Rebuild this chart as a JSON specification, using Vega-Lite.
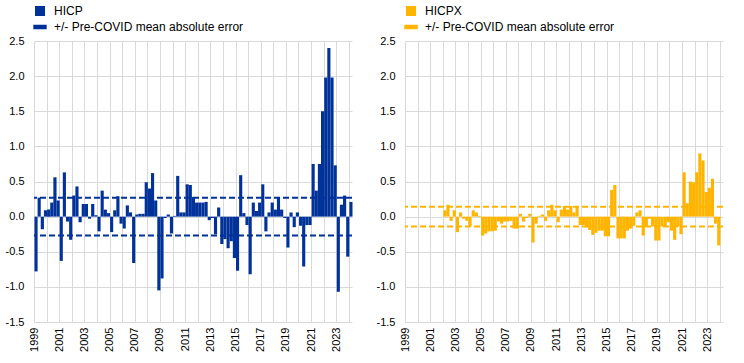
{
  "$schema": "https://vega.github.io/schema/vega-lite/v6.json",
  "background": "white",
  "padding": {"left": 5, "top": 5, "right": 0, "bottom": 0},
  "config": {
    "font": "Liberation Sans",
    "view": {"stroke": null},
    "axis": {"gridColor": "#d9d9d9", "gridWidth": 1, "domain": false, "ticks": false, "labelFontSize": 11, "labelColor": "#000000", "title": null},
    "legend": {"labelFontSize": 12, "labelColor": "#000000", "labelLimit": 0},
    "bar": {"binSpacing": 0, "timeUnitBandSize": 1}
  },
  "datasets": {
    "hicp": [
      {"d": "1999-01-01", "v": -0.78}, {"d": "1999-04-01", "v": 0.27}, {"d": "1999-07-01", "v": -0.18}, {"d": "1999-10-01", "v": 0.09},
      {"d": "2000-01-01", "v": 0.10}, {"d": "2000-04-01", "v": 0.20}, {"d": "2000-07-01", "v": 0.56}, {"d": "2000-10-01", "v": 0.23},
      {"d": "2001-01-01", "v": -0.63}, {"d": "2001-04-01", "v": 0.63}, {"d": "2001-07-01", "v": -0.07}, {"d": "2001-10-01", "v": -0.33},
      {"d": "2002-01-01", "v": 0.30}, {"d": "2002-04-01", "v": 0.43}, {"d": "2002-07-01", "v": -0.08}, {"d": "2002-10-01", "v": 0.18},
      {"d": "2003-01-01", "v": 0.18}, {"d": "2003-04-01", "v": -0.03}, {"d": "2003-07-01", "v": 0.18}, {"d": "2003-10-01", "v": 0.02},
      {"d": "2004-01-01", "v": -0.21}, {"d": "2004-04-01", "v": 0.37}, {"d": "2004-07-01", "v": 0.10}, {"d": "2004-10-01", "v": 0.05},
      {"d": "2005-01-01", "v": -0.22}, {"d": "2005-04-01", "v": 0.09}, {"d": "2005-07-01", "v": 0.29}, {"d": "2005-10-01", "v": -0.10},
      {"d": "2006-01-01", "v": -0.17}, {"d": "2006-04-01", "v": 0.16}, {"d": "2006-07-01", "v": 0.06}, {"d": "2006-10-01", "v": -0.66},
      {"d": "2007-01-01", "v": 0.03}, {"d": "2007-04-01", "v": 0.04}, {"d": "2007-07-01", "v": 0.04}, {"d": "2007-10-01", "v": 0.49},
      {"d": "2008-01-01", "v": 0.40}, {"d": "2008-04-01", "v": 0.62}, {"d": "2008-07-01", "v": 0.23}, {"d": "2008-10-01", "v": -1.05},
      {"d": "2009-01-01", "v": -0.88}, {"d": "2009-04-01", "v": -0.02}, {"d": "2009-07-01", "v": 0.03}, {"d": "2009-10-01", "v": -0.24},
      {"d": "2010-01-01", "v": 0.01}, {"d": "2010-04-01", "v": 0.58}, {"d": "2010-07-01", "v": 0.06}, {"d": "2010-10-01", "v": 0.06},
      {"d": "2011-01-01", "v": 0.46}, {"d": "2011-04-01", "v": 0.45}, {"d": "2011-07-01", "v": 0.28}, {"d": "2011-10-01", "v": 0.20},
      {"d": "2012-01-01", "v": 0.20}, {"d": "2012-04-01", "v": 0.20}, {"d": "2012-07-01", "v": 0.21}, {"d": "2012-10-01", "v": -0.05},
      {"d": "2013-01-01", "v": -0.02}, {"d": "2013-04-01", "v": -0.25}, {"d": "2013-07-01", "v": 0.13}, {"d": "2013-10-01", "v": -0.39},
      {"d": "2014-01-01", "v": -0.32}, {"d": "2014-04-01", "v": -0.45}, {"d": "2014-07-01", "v": -0.35}, {"d": "2014-10-01", "v": -0.59},
      {"d": "2015-01-01", "v": -0.77}, {"d": "2015-04-01", "v": 0.59}, {"d": "2015-07-01", "v": 0.05}, {"d": "2015-10-01", "v": -0.12},
      {"d": "2016-01-01", "v": -0.82}, {"d": "2016-04-01", "v": 0.20}, {"d": "2016-07-01", "v": 0.08}, {"d": "2016-10-01", "v": 0.20},
      {"d": "2017-01-01", "v": 0.46}, {"d": "2017-04-01", "v": -0.21}, {"d": "2017-07-01", "v": 0.06}, {"d": "2017-10-01", "v": 0.20},
      {"d": "2018-01-01", "v": 0.10}, {"d": "2018-04-01", "v": 0.28}, {"d": "2018-07-01", "v": 0.10}, {"d": "2018-10-01", "v": -0.02},
      {"d": "2019-01-01", "v": -0.44}, {"d": "2019-04-01", "v": 0.06}, {"d": "2019-07-01", "v": -0.15}, {"d": "2019-10-01", "v": 0.06},
      {"d": "2020-01-01", "v": -0.13}, {"d": "2020-04-01", "v": -0.71}, {"d": "2020-07-01", "v": -0.12}, {"d": "2020-10-01", "v": -0.12},
      {"d": "2021-01-01", "v": 0.75}, {"d": "2021-04-01", "v": 0.37}, {"d": "2021-07-01", "v": 0.75}, {"d": "2021-10-01", "v": 1.50},
      {"d": "2022-01-01", "v": 1.98}, {"d": "2022-04-01", "v": 2.40}, {"d": "2022-07-01", "v": 1.98}, {"d": "2022-10-01", "v": 0.73},
      {"d": "2023-01-01", "v": -1.07}, {"d": "2023-04-01", "v": 0.17}, {"d": "2023-07-01", "v": 0.30}, {"d": "2023-10-01", "v": -0.57},
      {"d": "2024-01-01", "v": 0.21}
    ],
    "hicpx": [
      {"d": "2002-01-01", "v": 0.09}, {"d": "2002-04-01", "v": 0.17}, {"d": "2002-07-01", "v": -0.06}, {"d": "2002-10-01", "v": 0.09},
      {"d": "2003-01-01", "v": -0.22}, {"d": "2003-04-01", "v": 0.06}, {"d": "2003-07-01", "v": -0.03}, {"d": "2003-10-01", "v": -0.06},
      {"d": "2004-01-01", "v": -0.14}, {"d": "2004-04-01", "v": 0.09}, {"d": "2004-07-01", "v": 0.06}, {"d": "2004-10-01", "v": 0.01},
      {"d": "2005-01-01", "v": -0.27}, {"d": "2005-04-01", "v": -0.24}, {"d": "2005-07-01", "v": -0.21}, {"d": "2005-10-01", "v": -0.21},
      {"d": "2006-01-01", "v": -0.20}, {"d": "2006-04-01", "v": -0.07}, {"d": "2006-07-01", "v": -0.10}, {"d": "2006-10-01", "v": -0.07},
      {"d": "2007-01-01", "v": -0.07}, {"d": "2007-04-01", "v": -0.06}, {"d": "2007-07-01", "v": -0.17}, {"d": "2007-10-01", "v": -0.17},
      {"d": "2008-01-01", "v": 0.04}, {"d": "2008-04-01", "v": -0.07}, {"d": "2008-07-01", "v": -0.02}, {"d": "2008-10-01", "v": 0.04},
      {"d": "2009-01-01", "v": -0.37}, {"d": "2009-04-01", "v": -0.10}, {"d": "2009-07-01", "v": 0.01}, {"d": "2009-10-01", "v": 0.03},
      {"d": "2010-01-01", "v": -0.06}, {"d": "2010-04-01", "v": 0.09}, {"d": "2010-07-01", "v": 0.17}, {"d": "2010-10-01", "v": 0.09},
      {"d": "2011-01-01", "v": -0.08}, {"d": "2011-04-01", "v": 0.10}, {"d": "2011-07-01", "v": 0.15}, {"d": "2011-10-01", "v": 0.10},
      {"d": "2012-01-01", "v": 0.15}, {"d": "2012-04-01", "v": 0.06}, {"d": "2012-07-01", "v": 0.15}, {"d": "2012-10-01", "v": -0.12},
      {"d": "2013-01-01", "v": -0.12}, {"d": "2013-04-01", "v": -0.15}, {"d": "2013-07-01", "v": -0.19}, {"d": "2013-10-01", "v": -0.26},
      {"d": "2014-01-01", "v": -0.23}, {"d": "2014-04-01", "v": -0.20}, {"d": "2014-07-01", "v": -0.20}, {"d": "2014-10-01", "v": -0.28},
      {"d": "2015-01-01", "v": -0.28}, {"d": "2015-04-01", "v": 0.38}, {"d": "2015-07-01", "v": 0.45}, {"d": "2015-10-01", "v": -0.31},
      {"d": "2016-01-01", "v": -0.31}, {"d": "2016-04-01", "v": -0.31}, {"d": "2016-07-01", "v": -0.20}, {"d": "2016-10-01", "v": -0.17},
      {"d": "2017-01-01", "v": -0.13}, {"d": "2017-04-01", "v": 0.06}, {"d": "2017-07-01", "v": 0.09}, {"d": "2017-10-01", "v": -0.27},
      {"d": "2018-01-01", "v": -0.14}, {"d": "2018-04-01", "v": -0.03}, {"d": "2018-07-01", "v": -0.14}, {"d": "2018-10-01", "v": -0.34},
      {"d": "2019-01-01", "v": -0.34}, {"d": "2019-04-01", "v": -0.14}, {"d": "2019-07-01", "v": -0.14}, {"d": "2019-10-01", "v": -0.08},
      {"d": "2020-01-01", "v": -0.20}, {"d": "2020-04-01", "v": -0.33}, {"d": "2020-07-01", "v": -0.14}, {"d": "2020-10-01", "v": -0.25},
      {"d": "2021-01-01", "v": 0.63}, {"d": "2021-04-01", "v": 0.19}, {"d": "2021-07-01", "v": 0.50}, {"d": "2021-10-01", "v": 0.49},
      {"d": "2022-01-01", "v": 0.63}, {"d": "2022-04-01", "v": 0.90}, {"d": "2022-07-01", "v": 0.80}, {"d": "2022-10-01", "v": 0.35},
      {"d": "2023-01-01", "v": 0.41}, {"d": "2023-04-01", "v": 0.54}, {"d": "2023-07-01", "v": -0.10}, {"d": "2023-10-01", "v": -0.41}
    ],
    "maeHicp": [{"v": 0.27}, {"v": -0.27}],
    "maeHicpx": [{"v": 0.14}, {"v": -0.14}]
  },
  "resolve": {"scale": {"color": "independent"}, "legend": {"color": "independent"}},
  "spacing": 22,
  "hconcat": [
    {
      "width": 318,
      "height": 281,
      "layer": [
        {
          "data": {"name": "hicp"},
          "mark": {"type": "bar", "binSpacing": 0},
          "encoding": {
            "x": {
              "field": "d", "type": "temporal", "timeUnit": "utcyearquarter",
              "scale": {"type": "utc", "domain": [{"year": 1999, "month": 1, "date": 1, "utc": true}, {"year": 2024, "month": 4, "date": 1, "utc": true}]},
              "axis": {"tickCount": {"interval": "year", "step": 1}, "labelExpr": "utcyear(datum.value) % 2 == 1 ? utcFormat(datum.value, '%Y') : ''", "labelAngle": -90, "labelPadding": 5, "labelOverlap": false, "labelFlush": false}
            },
            "y": {
              "field": "v", "type": "quantitative",
              "scale": {"domain": [-1.5, 2.5], "nice": false},
              "axis": {"values": [-1.5, -1, -0.5, 0, 0.5, 1, 1.5, 2, 2.5], "tickCount": 20, "labelExpr": "replace(format(datum.value, '.1f'), '\u2212', '-')", "labelOverlap": false, "labelPadding": 10}
            },
            "color": {
              "datum": "HICP",
              "scale": {"domain": ["HICP", "+/- Pre-COVID mean absolute error"], "range": ["#003299", "#003299"]},
              "legend": {
                "title": null, "orient": "top", "direction": "vertical", "symbolSize": 72, "rowPadding": 2, "offset": 8, "labelOffset": 8,
                "encode": {"symbols": {"update": {
                  "shape": {"signal": "datum.value === 'HICP' ? 'square' : 'M-1.4,-0.35H1.4V0.35H-1.4Z'"},
                  "fill": {"value": "#003299"}, "stroke": {"value": "transparent"}, "opacity": {"value": 1}, "strokeDash": {"value": []}
                }}}
              }
            }
          }
        },
        {
          "data": {"name": "maeHicp"},
          "mark": {"type": "rule", "strokeDash": [6, 3], "strokeWidth": 2},
          "encoding": {
            "y": {"field": "v", "type": "quantitative"},
            "color": {"datum": "+/- Pre-COVID mean absolute error"}
          }
        }
      ]
    },
    {
      "width": 318,
      "height": 281,
      "layer": [
        {
          "data": {"name": "hicpx"},
          "mark": {"type": "bar", "binSpacing": 0},
          "encoding": {
            "x": {
              "field": "d", "type": "temporal", "timeUnit": "utcyearquarter",
              "scale": {"type": "utc", "domain": [{"year": 1999, "month": 1, "date": 1, "utc": true}, {"year": 2024, "month": 4, "date": 1, "utc": true}]},
              "axis": {"tickCount": {"interval": "year", "step": 1}, "labelExpr": "utcyear(datum.value) % 2 == 1 ? utcFormat(datum.value, '%Y') : ''", "labelAngle": -90, "labelPadding": 5, "labelOverlap": false, "labelFlush": false}
            },
            "y": {
              "field": "v", "type": "quantitative",
              "scale": {"domain": [-1.5, 2.5], "nice": false},
              "axis": {"values": [-1.5, -1, -0.5, 0, 0.5, 1, 1.5, 2, 2.5], "tickCount": 20, "labelExpr": "replace(format(datum.value, '.1f'), '\u2212', '-')", "labelOverlap": false, "labelPadding": 10}
            },
            "color": {
              "datum": "HICPX",
              "scale": {"domain": ["HICPX", "+/- Pre-COVID mean absolute error"], "range": ["#ffb400", "#ffb400"]},
              "legend": {
                "title": null, "orient": "top", "direction": "vertical", "symbolSize": 72, "rowPadding": 2, "offset": 8, "labelOffset": 8,
                "encode": {"symbols": {"update": {
                  "shape": {"signal": "datum.value === 'HICPX' ? 'square' : 'M-1.4,-0.35H1.4V0.35H-1.4Z'"},
                  "fill": {"value": "#ffb400"}, "stroke": {"value": "transparent"}, "opacity": {"value": 1}, "strokeDash": {"value": []}
                }}}
              }
            }
          }
        },
        {
          "data": {"name": "maeHicpx"},
          "mark": {"type": "rule", "strokeDash": [6, 3], "strokeWidth": 2},
          "encoding": {
            "y": {"field": "v", "type": "quantitative"},
            "color": {"datum": "+/- Pre-COVID mean absolute error"}
          }
        }
      ]
    }
  ]
}
